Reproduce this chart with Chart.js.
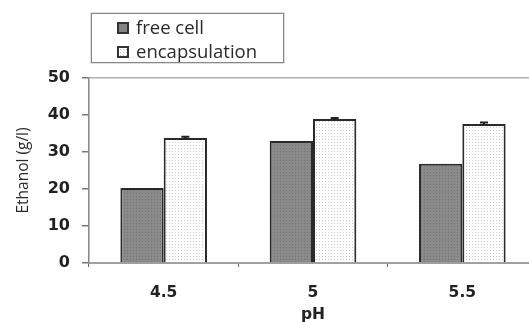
<!DOCTYPE html>
<html>
<head>
<meta charset="utf-8">
<script src="https://cdn.jsdelivr.net/npm/chart.js@4.4.0/dist/chart.umd.min.js"></script>
<style>
  html, body { margin: 0; padding: 0; background: #fff; overflow: hidden; }
  #wrap { position: relative; width: 529px; height: 322px; overflow: hidden; }
  #box { position: absolute; left: 0; top: 0; width: 537px; height: 322px; }
  #legend {
    position: absolute; left: 91px; top: 13px; width: 191px; height: 48px;
    border: 1px solid #888; box-shadow: 0 0 0 0.5px #bbb; background: #fff;
    font-family: "Open Sans", sans-serif; font-size: 18.5px; color: #2a2a2a;
  }
  .item { position: absolute; left: 25px; height: 22px; line-height: 22px; }
  .sw { display: inline-block; width: 8px; height: 8px; border: 2px solid #333; vertical-align: 0px; margin-right: 7px; }
  .sw.free { background: #858585; }
  .sw.enc { background: #fff radial-gradient(circle, #bbb 0.6px, transparent 0.8px) 0 0 / 3px 3px; }
</style>
</head>
<body>
<div id="wrap">
  <div id="box"><canvas id="chart" width="537" height="322"></canvas></div>
  <div id="legend">
    <div class="item" style="top:2px"><span class="sw free"></span>free cell</div>
    <div class="item" style="top:26px"><span class="sw enc"></span>encapsulation</div>
  </div>
</div>
<script>
const categories = ["4.5", "5", "5.5"];
const freeCell = [20.3, 33.0, 26.8];
const encapsulation = [33.8, 38.9, 37.6];
const encapsulationErr = [0.3, 0.3, 0.4];
const yTicks = [0, 10, 20, 30, 40, 50];

function dotPattern(bg, dot) {
  let c = document.createElement("canvas");
  c.width = 3;
  c.height = 3;
  let g = c.getContext("2d");
  g.fillStyle = bg;
  g.fillRect(0, 0, 3, 3);
  g.fillStyle = dot;
  g.fillRect(1, 1, 1, 1);
  return g.createPattern(c, "repeat");
}

const ctx = document.getElementById("chart").getContext("2d");
const freeFill = dotPattern("#8a8a8a", "#747474");
const encFill = dotPattern("#ffffff", "#cccccc");

const errorBars = {
  id: "errorBars",
  afterDatasetsDraw(chart) {
    let meta = chart.getDatasetMeta(1);
    let y = chart.scales.y;
    let c = chart.ctx;
    c.save();
    c.strokeStyle = "#222";
    c.lineWidth = 2;
    meta.data.forEach((bar, i) => {
      let top = y.getPixelForValue(encapsulation[i] + encapsulationErr[i]);
      let bot = y.getPixelForValue(encapsulation[i] - encapsulationErr[i]);
      c.beginPath();
      c.moveTo(bar.x, top);
      c.lineTo(bar.x, bot);
      c.moveTo(bar.x - 4, top);
      c.lineTo(bar.x + 4, top);
      c.stroke();
    });
    c.restore();
  },
};

new Chart(ctx, {
  type: "bar",
  data: {
    labels: categories,
    datasets: [
      {
        label: "free cell",
        data: freeCell,
        backgroundColor: freeFill,
        borderColor: "#2a2a2a",
        borderWidth: 2,
        borderSkipped: "bottom",
      },
      {
        label: "encapsulation",
        data: encapsulation,
        backgroundColor: encFill,
        borderColor: "#2a2a2a",
        borderWidth: 2,
        borderSkipped: "bottom",
      },
    ],
  },
  options: {
    responsive: false,
    animation: false,
    layout: { padding: { top: 78, right: 0, left: 0, bottom: 0 } },
    datasets: { bar: { barPercentage: 1, categoryPercentage: 0.58 } },
    plugins: { legend: { display: false }, tooltip: { enabled: false } },
    scales: {
      x: {
        afterFit: (s) => { s.height = 59; },
        grid: {
          offset: true,
          drawOnChartArea: false,
          tickLength: 4,
          tickColor: "#666",
        },
        border: { color: "#a0a0a0", width: 2 },
        ticks: {
          padding: 17,
          color: "#222",
          font: { family: "DejaVu Sans", size: 15.5, weight: "bold" },
        },
        title: {
          display: true,
          text: "pH",
          color: "#222",
          padding: { top: 0, bottom: -2 },
          font: { family: "DejaVu Sans", size: 15.5, weight: "bold" },
        },
      },
      y: {
        min: 0,
        max: 50,
        afterFit: (s) => { s.width = 89; },
        afterBuildTicks: (s) => { s.ticks = yTicks.map((v) => ({ value: v })); },
        grid: {
          color: (c) => (c.tick && c.tick.value === 50 ? "#b0b0b0" : "transparent"),
          lineWidth: 1.5,
          tickLength: 7,
          tickColor: "#777",
        },
        border: { color: "#888", width: 1.5 },
        ticks: {
          padding: 12,
          color: "#222",
          font: { family: "DejaVu Sans", size: 16, weight: "bold" },
        },
        title: {
          display: true,
          text: "Ethanol (g/l)",
          color: "#2a2a2a",
          padding: { top: 14, bottom: 0 },
          font: { family: "Open Sans", size: 15.5 },
        },
      },
    },
  },
  plugins: [errorBars],
});
</script>
</body>
</html>
